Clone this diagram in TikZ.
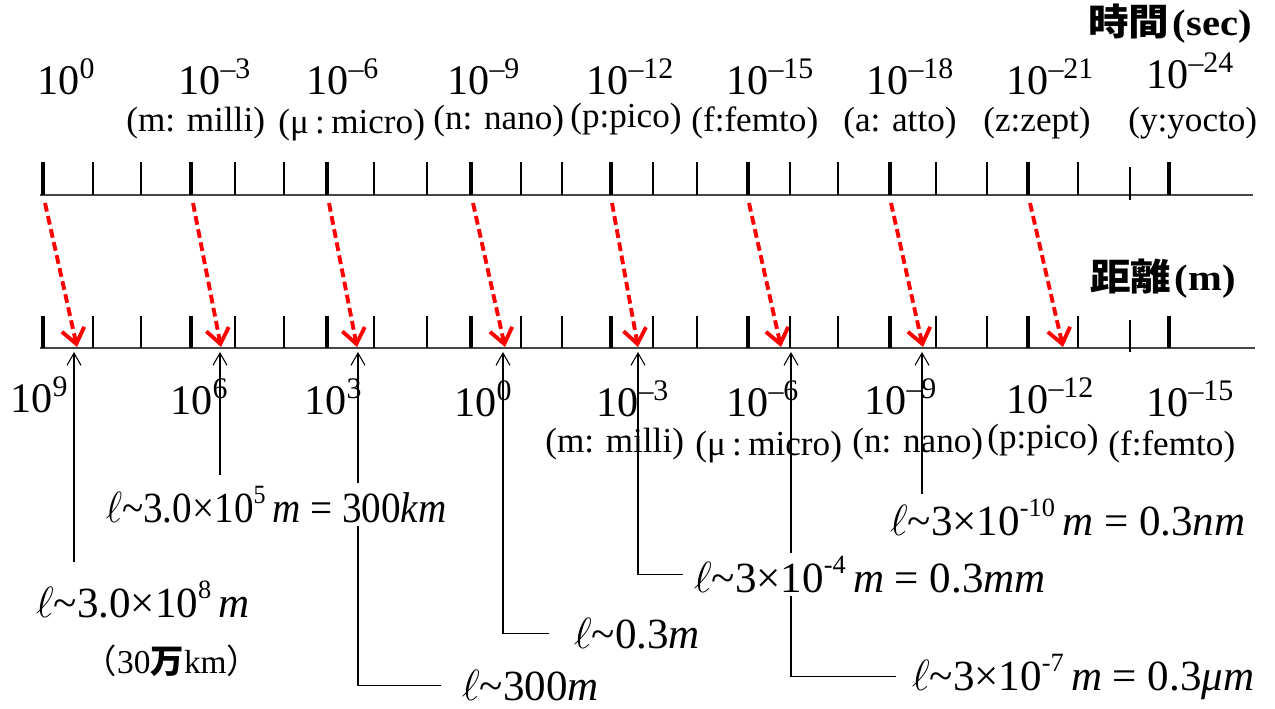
\documentclass[tikz,border=0pt]{standalone}
\usepackage{fontspec}
\setmainfont{Liberation Serif}
\newfontfamily\cjk{Noto Sans CJK JP}
\usetikzlibrary{arrows.meta,positioning}
\definecolor{axisgray}{RGB}{70,70,70}
\definecolor{arrowred}{RGB}{255,0,0}
\pgfdeclarelayer{bg}
\pgfsetlayers{bg,main}

\newcommand{\tenp}[1]{10\raisebox{9pt}{\fontsize{17}{17}\selectfont #1}}
\newcommand{\fexp}[1]{\raisebox{10.5pt}{\fontsize{15}{15}\selectfont #1}}
\newcommand{\ellsim}{$\ell$\textasciitilde}

\begin{document}
\begin{tikzpicture}[x=0.02cm,y=-0.02cm]

\tikzset{axisline/.style={draw=axisgray,line width=1.2pt}}
\tikzset{majortick/.style={draw,line width=2.4pt}}
\tikzset{minortick/.style={draw,line width=0.7pt}}
\tikzset{redarrow/.style={draw=arrowred,line width=2.2pt,dash pattern=on 5pt off 2.6pt,-{Straight Barb[length=8.5pt,width=13pt]}}}
\tikzset{blkarrow/.style={draw,line width=0.6pt,-{Straight Barb[length=7pt,width=8pt]}}}
\tikzset{power/.style={anchor=base west,inner sep=0pt,font=\fontsize{24}{24}\selectfont}}
\tikzset{unitname/.style={anchor=base west,inner sep=0pt,font=\fontsize{20}{20}\selectfont}}
\tikzset{formula/.style={anchor=base west,inner sep=2pt,fill=white,font=\fontsize{24.5}{24.5}\selectfont}}
\tikzset{heading/.style={anchor=base west,inner sep=0pt,font=\fontsize{21}{21}\selectfont\bfseries}}

\useasboundingbox (0,0) rectangle (1275,708);

% axes and ticks
\draw[axisline] (40,195) -- (1253,195);
\draw[axisline] (40,348) -- (1255,348);
\foreach \x in {43,191,327,471,611,748,890,1028,1169} {
  \draw[majortick] (\x,162) -- (\x,195);
  \draw[majortick] (\x,316) -- (\x,348);
}
\foreach \x in {93,141,235,284,374,427,521,562,653,697,790,838,936,987,1078} {
  \draw[minortick] (\x,162) -- (\x,195);
  \draw[minortick] (\x,316) -- (\x,348);
}
\draw[minortick] (1130,167) -- (1130,200);
\draw[minortick] (1130,320) -- (1130,352);

% time scale
\node[heading] (time) at (1088,35) {\scalebox{1.1}[1]{{\cjk 時間}\hspace{0.08em}(sec)}};
\node[power] (s0) at (37,94) {\tenp{0}};
\node[power] (s3) at (178,94) {\tenp{–3}};
\node[power] (s6) at (306,94) {\tenp{–6}};
\node[power] (s9) at (447,94) {\tenp{–9}};
\node[power] (s12) at (586,94) {\tenp{–12}};
\node[power] (s15) at (726,94) {\tenp{–15}};
\node[power] (s18) at (866,94) {\tenp{–18}};
\node[power] (s21) at (1006,94) {\tenp{–21}};
\node[power] (s24) at (1146,88) {\tenp{–24}};

\node[unitname] (smilli) at (126,131) {(m: milli)};
\node[unitname] (smicro) at (278,133) {(μ\hspace{0.18em}:\hspace{0.18em}micro)};
\node[unitname] (snano) at (433,129) {(n: nano)};
\node[unitname] (spico) at (570,127) {(p:pico)};
\node[unitname] (sfemto) at (691,131) {(f:femto)};
\node[unitname] (satto) at (843,131) {(a: atto)};
\node[unitname] (szept) at (983,131) {(z:zept)};
\node[unitname] (syocto) at (1128,131) {(y:yocto)};

% length scale
\node[heading] (dist) at (1090,290) {\scalebox{1.1}[1]{{\cjk 距離}\hspace{0.08em}(m)}};
\node[power] (d9) at (10,412) {\tenp{9}};
\node[power] (d6) at (170,414) {\tenp{6}};
\node[power] (d3) at (304,414) {\tenp{3}};
\node[power] (d0) at (454,416) {\tenp{0}};
\node[power] (dm3) at (596,416) {\tenp{–3}};
\node[power] (dm6) at (726,416) {\tenp{–6}};
\node[power] (dm9) at (864,414) {\tenp{–9}};
\node[power] (dm12) at (1006,413) {\tenp{–12}};
\node[power] (dm15) at (1146,416) {\tenp{–15}};

\node[unitname] (dmilli) at (545,452) {(m: milli)};
\node[unitname] (dmicro) at (695,455) {(μ\hspace{0.18em}:\hspace{0.18em}micro)};
\node[unitname] (dnano) at (852,452) {(n: nano)};
\node[unitname] (dpico) at (987,448) {(p:pico)};
\node[unitname] (dfemto) at (1108,455) {(f:femto)};

% wavelengths
\node[formula] (l8) at (32,617) {\ellsim3.0×10\fexp{8}\,\textit{m}};
\node[formula,font=\fontsize{19}{19}\selectfont] (man) at (80,673) {{\cjk （}30{\cjk\bfseries 万}km{\cjk ）}};
\node[formula] (l5) at (102,522) {\scalebox{0.91}[1]{\ellsim3.0×10\fexp{5}\,\textit{m} = 300\textit{km}}};
\node[formula] (l2) at (458,700) {\ellsim300\textit{m}};
\node[formula] (l0) at (570,648) {\ellsim0.3\textit{m}};
\node[formula] (l4) at (690,592) {\ellsim3×10\fexp{-4}\,\textit{m} = 0.3\textit{mm}};
\node[formula] (l7) at (908,690) {\ellsim3×10\fexp{-7}\,\textit{m} = 0.3\textit{μm}};
\node[formula] (l10) at (886,535) {\ellsim3×10\fexp{-10}\,\textit{m} = 0.3\textit{nm}};

\foreach \i/\xs/\xe in {1/45/77,2/193/221,3/329/357,4/473/505,5/612/638,6/749/781,7/891/923,8/1030/1063} {
  \coordinate (t\i) at (\xs,203);
  \coordinate (r\i) at (\xe,347);
}
\foreach \i/\x in {1/74,2/220,3/358,4/503,5/638,6/791,7/922}
  \coordinate (b\i) at (\x,352);
\coordinate (c1) at (74,562);
\coordinate (c2) at (220,475);
\coordinate (c7) at (922,494);

\begin{pgfonlayer}{bg}
\foreach \i in {1,...,8}
  \draw[redarrow] (t\i) -- (r\i);

\draw[blkarrow] (c1) -- (b1);
\draw[blkarrow] (c2) -- (b2);
\draw[blkarrow] ([xshift=-0.34cm]l2.west) -| (b3);
\draw[blkarrow] ([xshift=-0.42cm]l0.west) -| (b4);
\draw[blkarrow] ([xshift=-0.14cm]l4.west) -| (b5);
\draw[blkarrow] ([xshift=-0.24cm]l7.west) -| (b6);
\draw[blkarrow] (c7) -- (b7);
\end{pgfonlayer}

\end{tikzpicture}
\end{document}
